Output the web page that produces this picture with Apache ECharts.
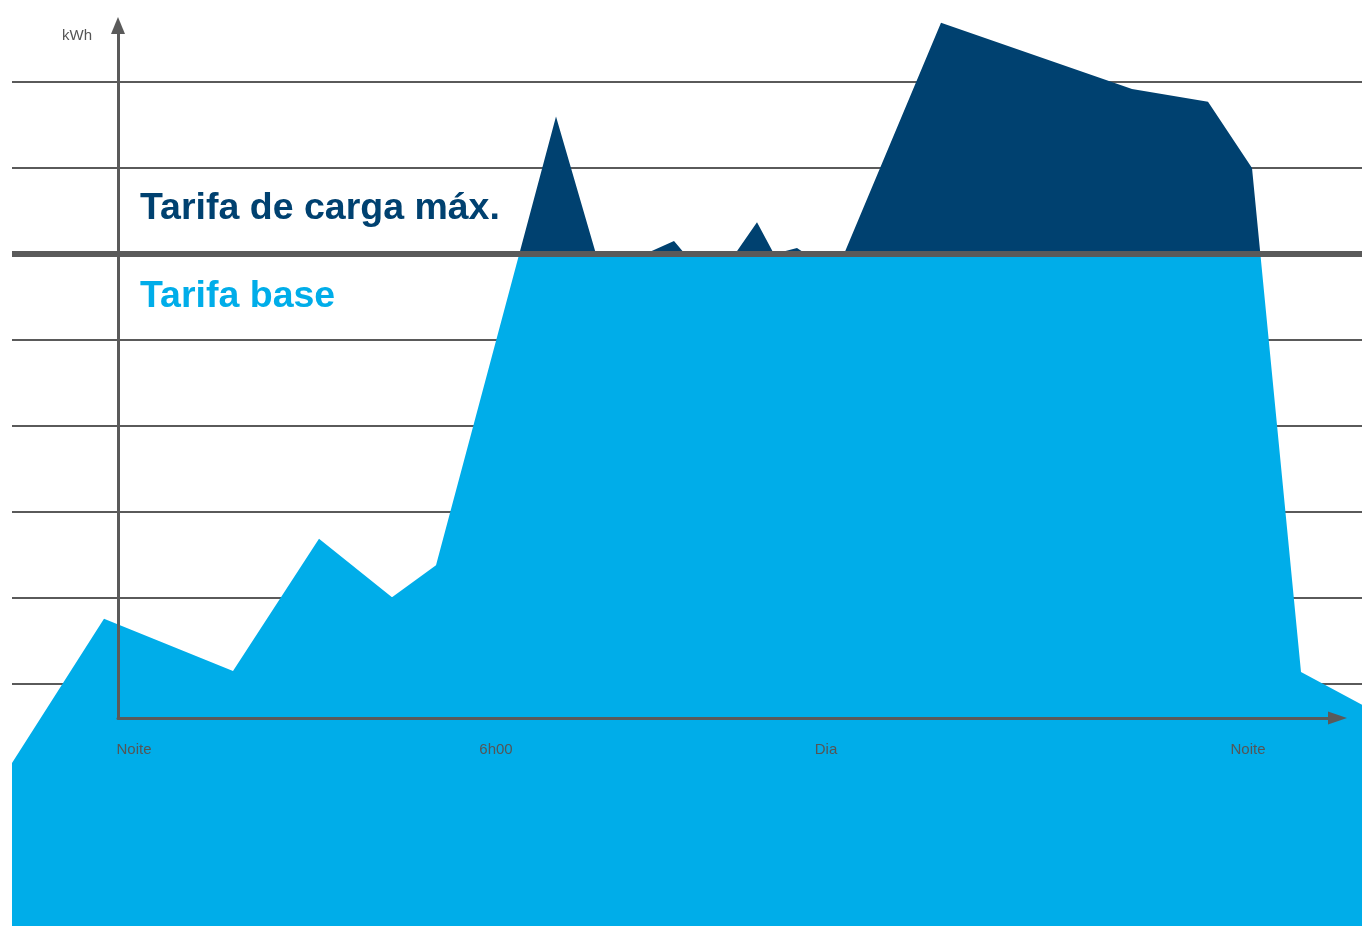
<!DOCTYPE html>
<html>
<head>
<meta charset="utf-8">
<script src="https://cdn.jsdelivr.net/npm/echarts@6/dist/echarts.min.js"></script>
<style>
html,body{margin:0;padding:0;background:#ffffff;}
#chart{width:1362px;height:926px;}
</style>
</head>
<body>
<div id="chart"></div>
<script>
// ---- data (x: schematic time units, origin at the y axis; y: kWh units, grid step = 1) ----
const timePoints = [-10.6, -1.4, 11.5, 20.1, 27.4, 31.8, 43.8, 47.8, 52.7, 55.6, 56.7, 61.7, 63.9, 65.6, 67.9, 68.8, 72.6, 82.3, 101.4, 109.0, 113.4, 118.3, 124.4];
const loadValues = [0.08, 1.76, 1.15, 2.69, 2.01, 2.38, 7.6, 6.0, 6.0, 6.15, 6.0, 6.0, 6.37, 6.0, 6.07, 6.0, 6.0, 8.69, 7.92, 7.77, 7.0, 1.14, 0.76];
const baseLimit = 6;
const gridLevels = [1, 2, 3, 4, 5, 6, 7, 8];
const xTickLabels = ['Noite', '6h00', 'Dia', 'Noite'];
const xTickPositions = [1.6, 37.8, 70.8, 113.0];
const yAxisName = 'kWh';
const zoneLabels = ['Tarifa de carga máx.', 'Tarifa base'];

const LIGHT = '#00ADE9';
const DARK = '#004170';
const GRAY = '#5a5a5a';
const FONT = '"Liberation Sans", Arial, Helvetica, sans-serif';

const seriesData = timePoints.map(function (x, i) { return [x, loadValues[i]]; });

const chart = echarts.init(document.getElementById('chart'));
const option = {
  animation: false,
  backgroundColor: '#ffffff',
  grid: [
    { left: 12, right: 0, top: 0, bottom: 0 },
    { left: 118, right: 24.5, top: 25.5, bottom: 208 }
  ],
  xAxis: [
    { type: 'value', gridIndex: 0, min: -10.6, max: 124.4, show: false },
    {
      type: 'value', gridIndex: 1, min: 0, max: 121.95, z: 10,
      axisLine: { show: true, onZero: false, lineStyle: { color: GRAY, width: 3 }, symbol: ['none', 'triangle'], symbolSize: [13, 19] },
      axisTick: { show: false },
      splitLine: { show: false },
      axisLabel: {
        customValues: xTickPositions,
        formatter: function (v) { return xTickLabels[xTickPositions.indexOf(v)]; },
        margin: 24, color: '#555555', fontSize: 15, fontFamily: FONT
      }
    }
  ],
  yAxis: [
    {
      type: 'value', gridIndex: 0, min: -1.814, max: 8.9535, show: false,
      splitLine: { show: false }
    },
    {
      type: 'value', gridIndex: 1, min: 0, max: 1, z: 10,
      axisLine: { show: true, onZero: false, lineStyle: { color: GRAY, width: 3 }, symbol: ['none', 'triangle'], symbolSize: [14, 17] },
      axisTick: { show: false }, axisLabel: { show: false }, splitLine: { show: false },
      name: yAxisName, nameLocation: 'end', nameGap: -10.5,
      nameTextStyle: { align: 'right', verticalAlign: 'middle', padding: [0, 26, 0, 0], color: '#555555', fontSize: 15, fontFamily: FONT }
    }
  ],
  series: [
    {
      // background grid lines (behind the area)
      type: 'line', xAxisIndex: 0, yAxisIndex: 0, z: 1,
      data: seriesData, symbol: 'none', showSymbol: false, lineStyle: { width: 0 }, silent: true,
      markLine: {
        silent: true, symbol: 'none', z: 1, animation: false,
        label: { show: false },
        lineStyle: { color: GRAY, width: 2, type: 'solid' },
        data: gridLevels.map(function (v) { return { yAxis: v }; })
      }
    },
    {
      type: 'line', xAxisIndex: 0, yAxisIndex: 0, z: 2,
      data: seriesData,
      symbol: 'none', showSymbol: false,
      lineStyle: { width: 0 },
      areaStyle: { opacity: 1, origin: 'start', color: LIGHT },
      markLine: {
        silent: true, symbol: 'none', z: 5, animation: false,
        label: { show: false },
        lineStyle: { color: GRAY, width: 6, type: 'solid' },
        data: [{ yAxis: baseLimit }]
      }
    }
  ],
  graphic: [
    { type: 'text', x: 140, y: 209, z: 20, style: { text: zoneLabels[0], font: 'bold 37.5px ' + FONT, fill: DARK, verticalAlign: 'middle' } },
    { type: 'text', x: 140, y: 297, z: 20, style: { text: zoneLabels[1], font: 'bold 37.5px ' + FONT, fill: LIGHT, verticalAlign: 'middle' } }
  ]
};
chart.setOption(option);

// colour the area above the base-tariff limit dark, using the axis scale
const limitPx = chart.convertToPixel({ yAxisIndex: 0 }, baseLimit);
const h = chart.getHeight();
const f = limitPx / h;
chart.setOption({
  series: [{}, {
    areaStyle: {
      color: new echarts.graphic.LinearGradient(0, 0, 0, h, [
        { offset: 0, color: DARK }, { offset: f, color: DARK },
        { offset: f, color: LIGHT }, { offset: 1, color: LIGHT }
      ], true)
    }
  }]
});
</script>
</body>
</html>
